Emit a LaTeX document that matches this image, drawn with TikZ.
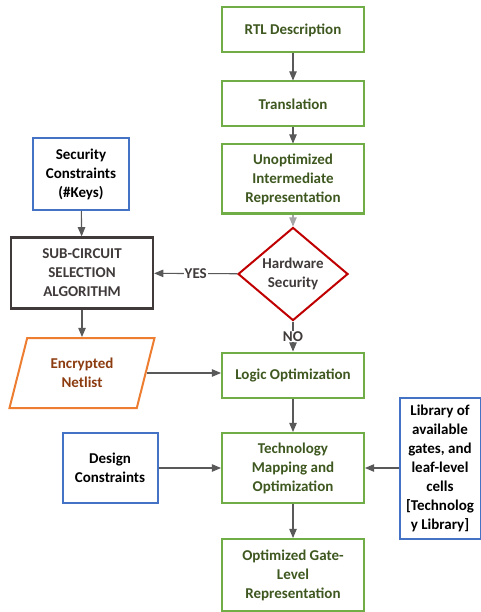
\documentclass[tikz,border=0pt]{standalone}
\usepackage{fontspec}
\setmainfont{Carlito}
\usetikzlibrary{positioning, shapes, arrows, calc}
\definecolor{flowgreen}{RGB}{112,173,71}
\definecolor{greentext}{RGB}{62,88,32}
\definecolor{flowblue}{RGB}{68,114,196}
\definecolor{flowred}{RGB}{192,0,0}
\definecolor{floworange}{RGB}{237,125,49}
\definecolor{browntext}{RGB}{140,60,16}
\definecolor{darkframe}{RGB}{64,58,58}
\definecolor{arrowgray}{RGB}{89,89,89}

\begin{document}
\begin{tikzpicture}[x=1pt, y=-1pt, ->, >=triangle 45, line width=1.1pt, draw=arrowgray,
  font=\bfseries\fontsize{15}{19}\selectfont,
  greenbox/.style={draw=flowgreen, line width=2pt, fill=white, text=greentext, align=center, minimum width=142, minimum height=45},
  bluebox/.style={draw=flowblue, line width=2pt, fill=white, text=black, align=center},
  lbl/.style={fill=white, text=darkframe, inner sep=1pt},
]
  \useasboundingbox (0,0) rectangle (481,612);

  % main flow
  \node[greenbox] (rtl) at (293,30) {RTL Description};
  \node[greenbox] (trans) at (293,104) {Translation};
  \node[greenbox, minimum height=69] (unopt) at (293,179) {Unoptimized\\Intermediate\\Representation};
  \node[diamond, draw=flowred, line width=2pt, fill=white, text=darkframe, align=center,
        minimum width=110, minimum height=82, inner sep=0pt] (hw) at (293,274) {Hardware\\Security};
  \node[greenbox] (logic) at (293,375) {Logic Optimization};
  \node[greenbox, minimum height=70] (tech) at (293,468) {Technology\\Mapping and\\Optimization};
  \node[greenbox, minimum height=72] (opt) at (293,575) {Optimized Gate-\\Level\\Representation};

  % side boxes
  \node[bluebox, minimum width=96, minimum height=72] (sec) at (81,174) {Security\\Constraints\\(\#Keys)};
  \node[draw=darkframe, line width=2.4pt, fill=white, text=darkframe, align=center,
        minimum width=142, minimum height=71] (sub) at (82,273) {SUB-CIRCUIT\\SELECTION\\ALGORITHM};
  \node[trapezium, trapezium left angle=64, trapezium right angle=116, trapezium stretches body,
        draw=floworange, line width=2pt, fill=white, text=browntext, align=center,
        minimum width=145, minimum height=70] (enc) at (82,373) {Encrypted\\Netlist};
  \coordinate (encout) at ($(enc.top right corner)!.5!(enc.bottom right corner)$);
  \node[bluebox, minimum width=95, minimum height=70] (design) at (110,468) {Design\\Constraints};
  \node[bluebox, minimum width=81, minimum height=141, inner sep=1pt] (lib) at (440,468) {Library of\\available\\gates, and\\leaf-level\\cells\\{[}Technolog\\y Library{]}};

  \path
    (rtl) edge (trans)
    (trans) edge (unopt)
    (unopt) edge[draw=gray!70] (hw)
    (hw) edge node[lbl] {YES} (sub)
    (hw) edge node[lbl] {NO} (logic)
    (sec) edge (sub)
    (sub) edge (enc)
    (encout) edge (encout -| logic.west)
    (logic) edge (tech)
    (design) edge (tech)
    (lib) edge (tech)
    (tech) edge (opt);

\end{tikzpicture}
\end{document}
